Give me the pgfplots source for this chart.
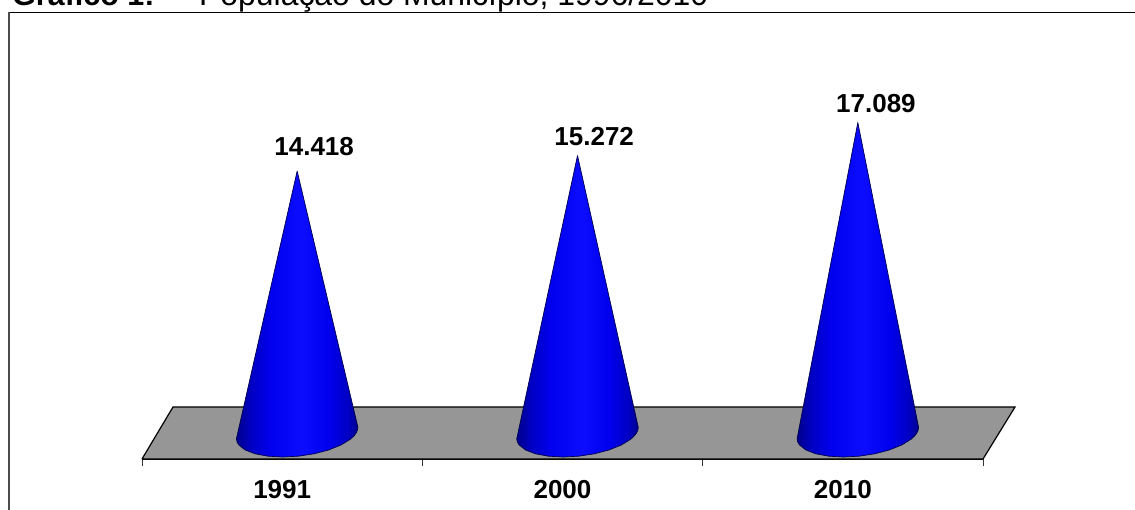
\documentclass[border=0pt]{standalone}
\usepackage{pgfplots}
\pgfplotsset{compat=1.18}
\usepackage{pgfplotstable}
\usepackage{fontspec}
\setmainfont{Liberation Sans}
\usetikzlibrary{shadings}

\definecolor{conedark}{RGB}{0,0,140}
\definecolor{conelow}{RGB}{0,0,195}
\definecolor{conemid}{RGB}{0,0,238}
\definecolor{conebright}{RGB}{12,12,255}
\definecolor{floorgrey}{RGB}{150,150,150}

% cone body: dark at the silhouette, brightest just right of the axis
\pgfdeclarehorizontalshading{conebody}{100bp}{
  color(0bp)=(conedark);
  color(25bp)=(conedark);
  color(31bp)=(conelow);
  color(39bp)=(conemid);
  color(52bp)=(conebright);
  color(63bp)=(conemid);
  color(71bp)=(conelow);
  color(75bp)=(conedark);
  color(100bp)=(conedark)}

% cone silhouette around its own axis: dx in category units, base in persons,
% apex = 1 on the rows that rise to the value of the year
\pgfplotstableread{
dx       base   apex
0        0      1
0.2167   315    0
0.2154   172    0
0.2105   0      0
0.2019   -172   0
0.1899   -342   0
0.1564   -660   0
0.1123   -934   0
0.0604   -1144  0
0.0045   -1276  0
-0.0517  -1321  0
-0.1044  -1276  0
-0.1500  -1144  0
-0.1854  -934   0
-0.2081  -660   0
-0.2145  -495   0
-0.2167  -315   0
0        0      1
}\conebase

\newcommand{\cone}[2]{%
  \addplot[draw=black!70!blue, line width=0.7pt, shading=conebody, mark=none]
    table[x expr=\thisrow{dx}+#1+0.0535, y expr=\thisrow{base}+\thisrow{apex}*#2] {\conebase};
}

\begin{document}
\begin{tikzpicture}[x=1pt,y=1pt]
\useasboundingbox (0,0) rectangle (1135,509);
\clip (0,0) rectangle (1135,509);

% caption above the frame, partly cut by the page edge
\node[anchor=base west, inner sep=0pt, font=\fontsize{30.5}{32}\selectfont] at (12,503)
  {\textbf{Gráfico 1:}};
\node[anchor=base west, inner sep=0pt, font=\fontsize{31.9}{33}\selectfont] at (199,503)
  {População do Município, 1996/2010};

% chart frame
\draw[line width=1.4pt, black] (9,496.5) -- (1140,496.5);
\draw[line width=1.4pt, black!70] (9,-5) -- (9,496.5);

\begin{axis}[
  at={(142pt,50pt)}, anchor=south west,
  scale only axis, width=841pt, height=353.06pt,
  xmin=-0.5, xmax=2.5, ymin=-1431, ymax=18000,
  axis x line=bottom, axis y line=none,
  axis line style={-, line width=1.2pt, black},
  clip=false,
  xtick={0,1,2}, xticklabels={1991,2000,2010},
  minor xtick={-0.5,0.5,1.5,2.5},
  major tick length=0pt, minor tick length=7pt,
  tick align=outside, tick style={black!80, line width=0.9pt},
  xticklabel style={font=\fontsize{26}{28}\selectfont\bfseries, yshift=-18pt},
]
% chart floor
\addplot[draw=black, line width=1.2pt, fill=floorgrey, mark=none] coordinates {
  (-0.5,-1431) (-0.3894,1431) (2.6142,1431) (2.5,-1431) (-0.5,-1431)};

\cone{0}{14418}
\cone{1}{15272}
\cone{2}{17089}

% value labels above the apexes
\node[font=\fontsize{26}{28}\selectfont\bfseries] at (axis cs:0.114,15740) {14.418};
\node[font=\fontsize{26}{28}\selectfont\bfseries] at (axis cs:1.113,16320) {15.272};
\node[font=\fontsize{26}{28}\selectfont\bfseries] at (axis cs:2.118,18110) {17.089};
\end{axis}
\end{tikzpicture}
\end{document}
